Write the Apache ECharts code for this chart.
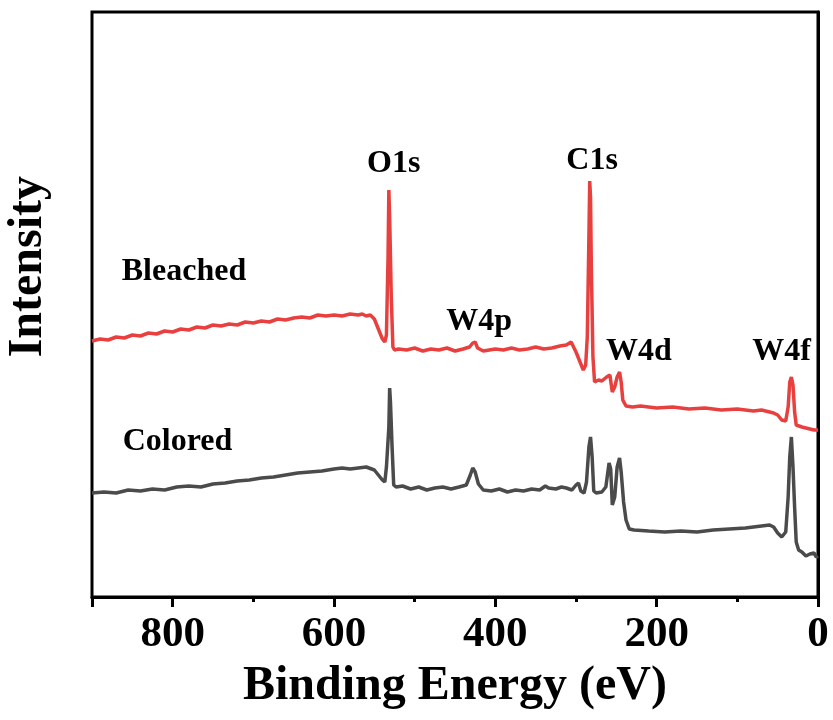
<!DOCTYPE html>
<html>
<head>
<meta charset="utf-8">
<script src="https://cdn.jsdelivr.net/npm/echarts@6/dist/echarts.min.js"></script>
<style>
  html, body { margin: 0; padding: 0; background: #fff; }
  #chart { width: 833px; height: 720px; }
</style>
</head>
<body>
<div id="chart"></div>
<script>
// XPS survey spectra, binding energy (eV) vs intensity (arb. units)
const bleached = [
  [900, 256], [890, 258], [880, 257], [870, 260], [860, 259], [850, 262], [840, 261],
  [830, 264], [820, 263], [810, 266], [800, 265], [790, 268], [780, 267], [770, 270],
  [760, 269], [750, 272], [740, 271], [730, 273], [720, 272], [710, 275], [700, 274],
  [690, 276], [680, 275], [670, 278], [660, 277], [650, 279], [640, 280], [630, 279],
  [620, 282], [610, 281], [600, 282], [590, 281], [580, 283], [570, 282], [565, 283],
  [560, 281], [555, 282], [550, 278], [545, 268], [540, 258], [537, 255], [535, 262],
  [533, 340], [532, 407], [531, 380], [529, 300], [527, 250], [525, 247], [520, 248],
  [510, 247], [500, 249], [490, 246], [480, 248], [470, 247], [460, 249], [450, 246],
  [440, 248], [432, 250], [428, 254], [425, 255], [422, 249], [415, 246], [400, 248],
  [390, 247], [380, 249], [370, 247], [360, 248], [350, 250], [340, 248], [330, 249],
  [320, 251], [312, 252], [306, 255], [300, 245], [295, 235], [291, 227], [288, 232],
  [286, 260], [284, 360], [283, 416], [282, 400], [281, 330], [279, 240], [277, 215],
  [272, 217], [268, 216], [262, 220], [258, 222], [255, 205], [252, 210], [249, 220],
  [246, 225], [244, 215], [242, 197], [238, 191], [230, 190], [220, 191], [200, 189],
  [180, 190], [160, 188], [140, 189], [120, 187], [100, 188], [80, 186], [70, 187],
  [60, 185], [55, 184], [50, 182], [45, 177], [40, 176], [37, 190], [35, 215],
  [33, 220], [31, 212], [29, 185], [27, 172], [20, 170], [15, 169], [10, 168],
  [5, 167], [0, 167]
];

const colored = [
  [900, 104], [885, 105], [870, 104], [855, 107], [840, 106], [825, 108], [810, 107],
  [795, 110], [780, 111], [765, 110], [750, 113], [735, 114], [720, 116], [705, 117],
  [690, 119], [675, 120], [660, 122], [645, 124], [630, 125], [615, 126], [600, 128],
  [590, 129], [580, 128], [570, 129], [560, 130], [550, 127], [545, 122], [540, 117],
  [537, 115], [535, 130], [532, 170], [531, 209], [530, 195], [528, 150], [526, 112],
  [523, 110], [515, 111], [505, 108], [495, 110], [485, 107], [475, 109], [465, 110],
  [455, 108], [445, 110], [436, 112], [431, 122], [428, 129], [425, 125], [421, 113],
  [415, 107], [405, 106], [395, 108], [385, 105], [375, 107], [365, 106], [355, 108],
  [345, 107], [338, 111], [334, 109], [325, 108], [318, 110], [312, 109], [305, 107],
  [300, 112], [297, 114], [294, 106], [290, 104], [287, 115], [284, 150], [282, 160],
  [280, 140], [278, 106], [275, 104], [268, 105], [263, 110], [259, 134], [257, 128],
  [255, 92], [252, 100], [249, 130], [246, 139], [244, 125], [241, 95], [238, 77],
  [234, 68], [228, 67], [210, 66], [190, 65], [170, 66], [150, 65], [130, 67],
  [110, 68], [90, 69], [80, 70], [70, 71], [60, 72], [55, 70], [50, 64], [45, 60],
  [40, 65], [37, 100], [35, 140], [33, 160], [31, 130], [29, 90], [27, 55], [24, 47],
  [20, 45], [15, 41], [10, 43], [5, 44], [2, 40], [0, 41]
];

// peak / sample labels placed in data coordinates
const peakLabels = [
  { name: "O1s", value: [526, 433] },
  { name: "C1s", value: [280, 436] },
  { name: "W4p", value: [420, 275] },
  { name: "W4d", value: [222, 245] },
  { name: "W4f", value: [45, 245] },
  { name: "Bleached", value: [786, 325] },
  { name: "Colored", value: [794, 155] },
];

const xTicks = { min: 0, max: 900, interval: 200 };
const FONT = "'Liberation Serif', 'Times New Roman', serif";

const chart = echarts.init(document.getElementById("chart"), null, { renderer: "canvas" });

chart.setOption({
  backgroundColor: "#fff",
  animation: false,
  grid: {
    left: 92, right: 15, top: 12, bottom: 123,
    show: true, borderColor: "#000", borderWidth: 3,
  },
  xAxis: {
    type: "value",
    inverse: true,
    min: xTicks.min, max: xTicks.max, interval: xTicks.interval,
    name: "Binding Energy (eV)",
    nameLocation: "middle",
    nameGap: 66,
    nameTextStyle: { fontFamily: FONT, fontWeight: "bold", fontSize: 48, color: "#000" },
    axisLine: { lineStyle: { color: "#000", width: 3 } },
    axisTick: { show: true, inside: false, length: 10, lineStyle: { color: "#000", width: 3 } },
    minorTick: { show: true, splitNumber: 2, length: 5, lineStyle: { color: "#000", width: 3 } },
    axisLabel: {
      showMaxLabel: false,
      margin: 16,
      fontFamily: FONT, fontWeight: "bold", fontSize: 43, color: "#000",
    },
    splitLine: { show: false },
  },
  yAxis: {
    type: "value",
    min: 0, max: 585,
    axisLine: { show: true, lineStyle: { color: "#000", width: 3 } },
    axisTick: { show: false },
    axisLabel: { show: false },
    splitLine: { show: false },
  },
  graphic: [{
    type: "text",
    left: 5, top: 176,
    rotation: Math.PI / 2,
    style: {
      text: "Intensity",
      font: "bold 48px " + FONT,
      fill: "#000",
    },
  }],
  series: [
    {
      name: "Bleached",
      type: "line",
      data: bleached,
      showSymbol: false,
      lineStyle: { color: "#e8403f", width: 3.5 },
      z: 3,
    },
    {
      name: "Colored",
      type: "line",
      data: colored,
      showSymbol: false,
      lineStyle: { color: "#4b4b4b", width: 3.5 },
      z: 3,
    },
    {
      name: "labels",
      type: "scatter",
      data: peakLabels,
      symbolSize: 0,
      silent: true,
      itemStyle: { opacity: 1 },
      label: {
        show: true,
        position: "inside",
        formatter: p => p.name,
        fontFamily: FONT, fontWeight: "bold", fontSize: 32, color: "#000",
        textBorderWidth: 0,
      },
      z: 5,
    },
  ],
});
</script>
</body>
</html>
